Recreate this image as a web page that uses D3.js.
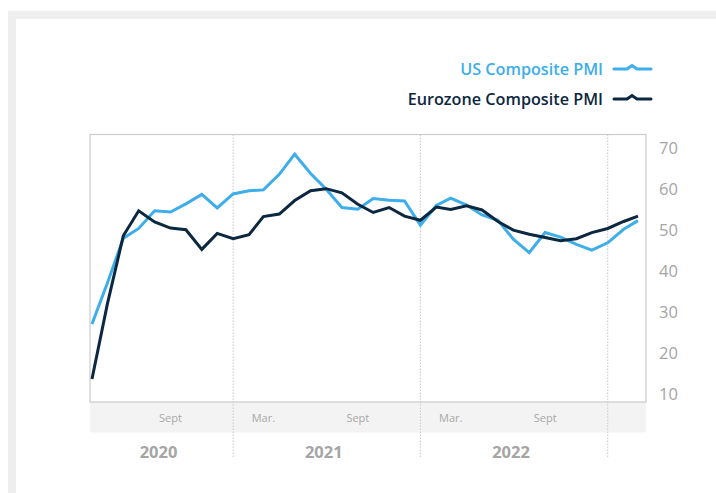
<!DOCTYPE html>
<html>
<head>
<meta charset="utf-8">
<script src="https://cdn.jsdelivr.net/npm/d3@7"></script>
<style>
  body { margin: 0; background: #fff; }
  svg { display: block; font-family: "Open Sans", "Noto Sans", sans-serif; }
</style>
</head>
<body>
<div id="chart"></div>
<script>
// monthly data, Apr 2020 - Mar 2023
const startMonth = new Date(2020, 3, 1);
const usPMI = [27.0, 37.0, 47.9, 50.3, 54.6, 54.3, 56.3, 58.6, 55.3, 58.7, 59.5, 59.7,
               63.5, 68.4, 63.7, 59.9, 55.4, 55.0, 57.6, 57.2, 57.0, 51.1, 55.9, 57.7,
               56.0, 53.6, 52.3, 47.7, 44.4, 49.3, 48.2, 46.4, 45.0, 46.8, 50.1, 52.2];
const euroPMI = [13.6, 31.9, 48.5, 54.6, 51.9, 50.4, 50.0, 45.2, 49.1, 47.8, 48.8, 53.2,
                 53.8, 57.1, 59.5, 60.0, 59.0, 56.2, 54.2, 55.4, 53.3, 52.3, 55.5, 54.9,
                 55.8, 54.8, 52.0, 49.9, 48.9, 48.1, 47.3, 47.8, 49.3, 50.3, 52.0, 53.3];
const yTicks = [10, 20, 30, 40, 50, 60, 70];
const monthTicks = [
  { date: new Date(2020, 8, 1), label: "Sept" },
  { date: new Date(2021, 2, 1), label: "Mar." },
  { date: new Date(2021, 8, 1), label: "Sept" },
  { date: new Date(2022, 2, 1), label: "Mar." },
  { date: new Date(2022, 8, 1), label: "Sept" }
];
const years = ["2020", "2021", "2022"];
const yearBreaks = [new Date(2021, 0, 1), new Date(2022, 0, 1), new Date(2023, 0, 1)];
const seriesNames = ["US Composite PMI", "Eurozone Composite PMI"];
const seriesColors = ["#3daeea", "#0c2740"];

const width = 716, height = 493;
const box = { left: 90, right: 646, top: 134.5, bottom: 402 };

const dates = usPMI.map((d, i) => d3.timeMonth.offset(startMonth, i));

const svg = d3.select("#chart").append("svg")
  .attr("width", width)
  .attr("height", height);

// outer frame
svg.append("rect").attr("x", 8).attr("y", 11).attr("width", width - 8).attr("height", 8).attr("fill", "#eeeeee");
svg.append("rect").attr("x", 8).attr("y", 11).attr("width", 8).attr("height", height - 11).attr("fill", "#eeeeee");

const x = d3.scaleTime()
  .domain([dates[0], dates[dates.length - 1]])
  .range([92, 638]);

const y = d3.scaleLinear()
  .domain([8, 73.2])
  .range([box.bottom, box.top]);

// month band
svg.append("rect")
  .attr("x", box.left).attr("y", box.bottom)
  .attr("width", box.right - box.left).attr("height", 30.5)
  .attr("fill", "#f3f3f3");

// year separators
svg.selectAll(".year-sep")
  .data(yearBreaks)
  .enter().append("line")
  .attr("class", "year-sep")
  .attr("x1", d => x(d)).attr("x2", d => x(d))
  .attr("y1", box.top).attr("y2", 458)
  .attr("stroke", "#c8c8c8")
  .attr("stroke-width", 1)
  .attr("stroke-dasharray", "1.5,1.5");

// plot border
svg.append("rect")
  .attr("x", box.left).attr("y", box.top)
  .attr("width", box.right - box.left).attr("height", box.bottom - box.top)
  .attr("fill", "none")
  .attr("stroke", "#cccccc")
  .attr("stroke-width", 1.2);

// y labels
svg.selectAll(".y-label")
  .data(yTicks)
  .enter().append("text")
  .attr("class", "y-label")
  .attr("x", 659)
  .attr("y", d => y(d) + 6)
  .attr("fill", "#a5a5a5")
  .attr("font-size", 16.5)
  .text(d => d);

// month labels
svg.selectAll(".m-label")
  .data(monthTicks)
  .enter().append("text")
  .attr("class", "m-label")
  .attr("x", d => x(d.date))
  .attr("y", 422)
  .attr("text-anchor", "middle")
  .attr("fill", "#a8a8a8")
  .attr("font-size", 11)
  .text(d => d.label);

// year labels, centred between breaks
const yearEdges = [x.range()[0] - 2].concat(yearBreaks.map(d => x(d)));
svg.selectAll(".yr-label")
  .data(years)
  .enter().append("text")
  .attr("class", "yr-label")
  .attr("x", (d, i) => (yearEdges[i] + yearEdges[i + 1]) / 2 - 3)
  .attr("y", 458)
  .attr("text-anchor", "middle")
  .attr("fill", "#a5a5a5")
  .attr("font-size", 16.5)
  .attr("font-weight", 700)
  .text(d => d);

// lines
const line = d3.line()
  .x((d, i) => x(dates[i]))
  .y(d => y(d));

[usPMI, euroPMI].forEach((s, k) => {
  svg.append("path")
    .datum(s)
    .attr("fill", "none")
    .attr("stroke", seriesColors[k])
    .attr("stroke-width", 3)
    .attr("stroke-linejoin", "miter")
    .attr("d", line);
});

// legend
const legendY = [69, 99];
seriesNames.forEach((name, k) => {
  svg.append("text")
    .attr("x", 603)
    .attr("y", legendY[k] + 5.5)
    .attr("text-anchor", "end")
    .attr("fill", seriesColors[k])
    .attr("font-size", 16.2)
    .attr("font-weight", 600)
    .text(name);
  const ly = legendY[k];
  svg.append("path")
    .attr("d", `M614,${ly} L627,${ly} L632,${ly - 3.5} L637,${ly} L651,${ly}`)
    .attr("fill", "none")
    .attr("stroke", seriesColors[k])
    .attr("stroke-width", 3)
    .attr("stroke-linecap", "round");
});
</script>
</body>
</html>
